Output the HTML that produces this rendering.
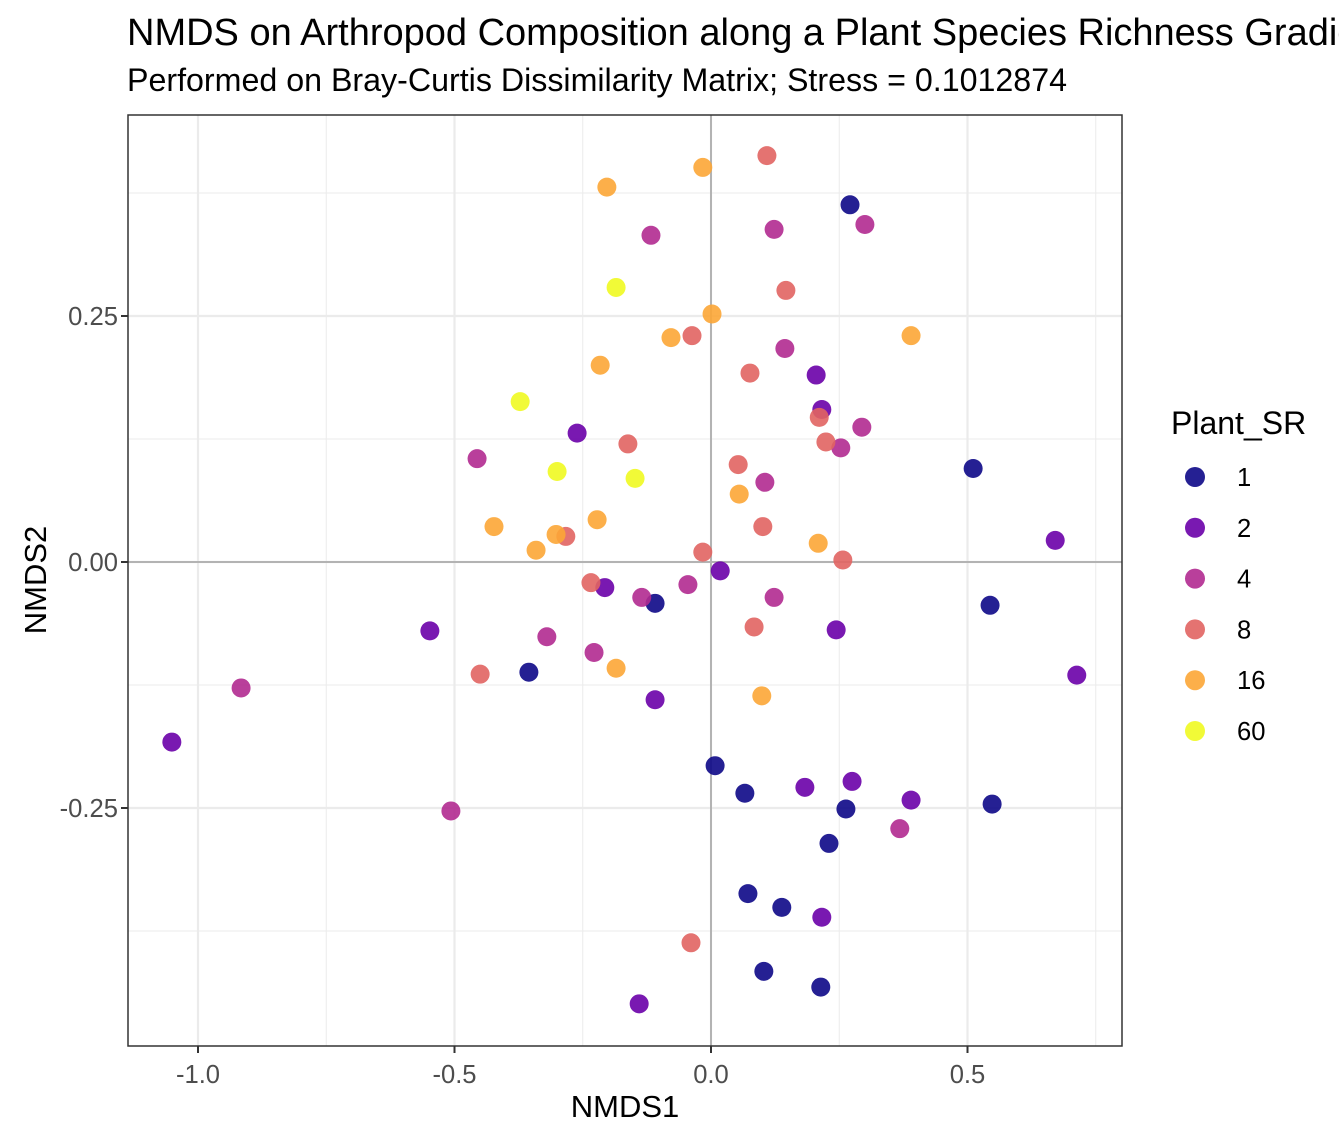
<!DOCTYPE html>
<html><head><meta charset="utf-8"><style>
html,body{margin:0;padding:0;background:#fff;overflow:hidden;}
svg{display:block;font-family:"Liberation Sans",Arial,sans-serif;}
</style></head><body>
<svg id="chart" width="1339" height="1139" viewBox="0 0 1339 1139">
<rect width="1339" height="1139" fill="#fff"/>
<text x="127" y="45" font-size="38" fill="#000">NMDS on Arthropod Composition along a Plant Species Richness Gradient</text>
<text x="127" y="91" font-size="32.2" fill="#000">Performed on Bray-Curtis Dissimilarity Matrix; Stress = 0.1012874</text>
<g id="grid"></g><g id="pts"></g><g id="axes"></g><g id="legend"></g>
<text x="625" y="1117" font-size="31" text-anchor="middle">NMDS1</text>
<text transform="translate(46,580) rotate(-90)" font-size="31" text-anchor="middle">NMDS2</text>
</svg>
<script>
const groups=["1","2","4","8","16","60"];
const colors=["#0D0887","#6A00A8","#B12A90","#E16462","#FCA636","#F0F921"];
const xTicks=[-1.0,-0.5,0.0,0.5];
const xTickLabels=["-1.0","-0.5","0.0","0.5"];
const yTicks=[-0.25,0,0.25];
const yTickLabels=["-0.25","0.00","0.25"];
const xMinor=[-0.75,-0.25,0.25,0.75];
const yMinor=[-0.375,-0.125,0.125,0.375];
const g1x=[0.271,0.511,0.544,-0.109,-0.355,0.008,0.066,0.263,0.548,0.230,0.072,0.138,0.103,0.214];
const g1y=[0.363,0.095,-0.044,-0.042,-0.112,-0.207,-0.235,-0.251,-0.246,-0.286,-0.337,-0.351,-0.416,-0.432];
const g2x=[0.205,0.216,-0.261,0.671,0.018,-0.207,-0.548,0.244,0.713,-0.109,-1.051,0.275,0.183,0.390,0.216,-0.140];
const g2y=[0.190,0.155,0.131,0.022,-0.009,-0.026,-0.070,-0.069,-0.115,-0.140,-0.183,-0.223,-0.229,-0.242,-0.361,-0.449];
const g4x=[-0.117,0.123,0.300,0.144,0.294,0.253,-0.456,0.105,-0.135,-0.045,0.123,-0.320,-0.228,-0.916,-0.507,0.368];
const g4y=[0.332,0.338,0.343,0.217,0.137,0.116,0.105,0.081,-0.036,-0.023,-0.036,-0.076,-0.092,-0.128,-0.253,-0.271];
const g8x=[0.109,0.146,-0.037,0.076,0.211,0.224,-0.162,0.053,0.101,-0.283,-0.016,0.257,-0.234,0.084,-0.450,-0.039];
const g8y=[0.413,0.276,0.230,0.192,0.147,0.122,0.120,0.099,0.036,0.026,0.010,0.002,-0.021,-0.066,-0.114,-0.387];
const g16x=[-0.016,-0.203,0.002,-0.078,0.390,-0.216,0.055,-0.423,-0.302,-0.222,-0.341,0.209,-0.185,0.099];
const g16y=[0.401,0.381,0.252,0.228,0.230,0.200,0.069,0.036,0.028,0.043,0.012,0.019,-0.108,-0.136];
const g60x=[-0.185,-0.372,-0.300,-0.148];
const g60y=[0.279,0.163,0.092,0.085];
const seriesX=[g1x,g2x,g4x,g8x,g16x,g60x];
const seriesY=[g1y,g2y,g4y,g8y,g16y,g60y];

const NS="http://www.w3.org/2000/svg";
const P={l:128,r:1122,t:115,b:1046};
const sx=v=>711+v*513;
const sy=v=>562-v*984;
function mk(t,a,parent){const e=document.createElementNS(NS,t);for(const k in a)e.setAttribute(k,a[k]);parent.appendChild(e);return e;}
const grid=document.getElementById('grid'),axes=document.getElementById('axes'),pts=document.getElementById('pts'),leg=document.getElementById('legend');
xMinor.forEach(v=>{const l=mk('line',{x1:sx(v),x2:sx(v),y1:P.t,y2:P.b,stroke:'#ebebeb','stroke-width':1},grid);

});
yMinor.forEach(v=>{const l=mk('line',{x1:P.l,x2:P.r,y1:sy(v),y2:sy(v),stroke:'#ebebeb','stroke-width':1},grid);

});
xTicks.forEach((v,i)=>{const l=mk('line',{x1:sx(v),x2:sx(v),y1:P.t,y2:P.b,stroke:'#ebebeb','stroke-width':2.2},grid);


const tk=mk('line',{x1:sx(v),x2:sx(v),y1:P.b,y2:P.b+7,stroke:'#333','stroke-width':2},axes);


const t=mk('text',{x:sx(v),y:1083,'font-size':25.6,fill:'#4d4d4d','text-anchor':'middle'},axes);t.textContent=xTickLabels[i];

});
yTicks.forEach((v,i)=>{const l=mk('line',{x1:P.l,x2:P.r,y1:sy(v),y2:sy(v),stroke:'#ebebeb','stroke-width':2.2},grid);


const tk=mk('line',{x1:P.l-7,x2:P.l,y1:sy(v),y2:sy(v),stroke:'#333','stroke-width':2},axes);


const t=mk('text',{x:P.l-10,y:sy(v)+9,'font-size':25.6,fill:'#4d4d4d','text-anchor':'end'},axes);t.textContent=yTickLabels[i];

});
const h=mk('line',{x1:P.l,x2:P.r,y1:sy(0),y2:sy(0),stroke:'#b3b3b3','stroke-width':2},grid);


const vl=mk('line',{x1:sx(0),x2:sx(0),y1:P.t,y2:P.b,stroke:'#b3b3b3','stroke-width':2},grid);


seriesX.forEach((xs,gi)=>{xs.forEach((x,i)=>{const c=mk('circle',{cx:sx(x),cy:sy(seriesY[gi][i]),r:9.5,fill:colors[gi],'fill-opacity':0.9},pts);

});});
const fr=mk('rect',{x:P.l,y:P.t,width:P.r-P.l,height:P.b-P.t,fill:'none',stroke:'#333','stroke-width':1.5},axes);


const lt=mk('text',{x:1171,y:434,'font-size':32},leg);lt.textContent='Plant_SR';


groups.forEach((g,i)=>{const y=477+i*50.8;
const c=mk('circle',{cx:1195,cy:y,r:10,fill:colors[i],'fill-opacity':0.9},leg);


const t=mk('text',{x:1237,y:y+9,'font-size':25.6},leg);t.textContent=g;

});
</script>
</body></html>
